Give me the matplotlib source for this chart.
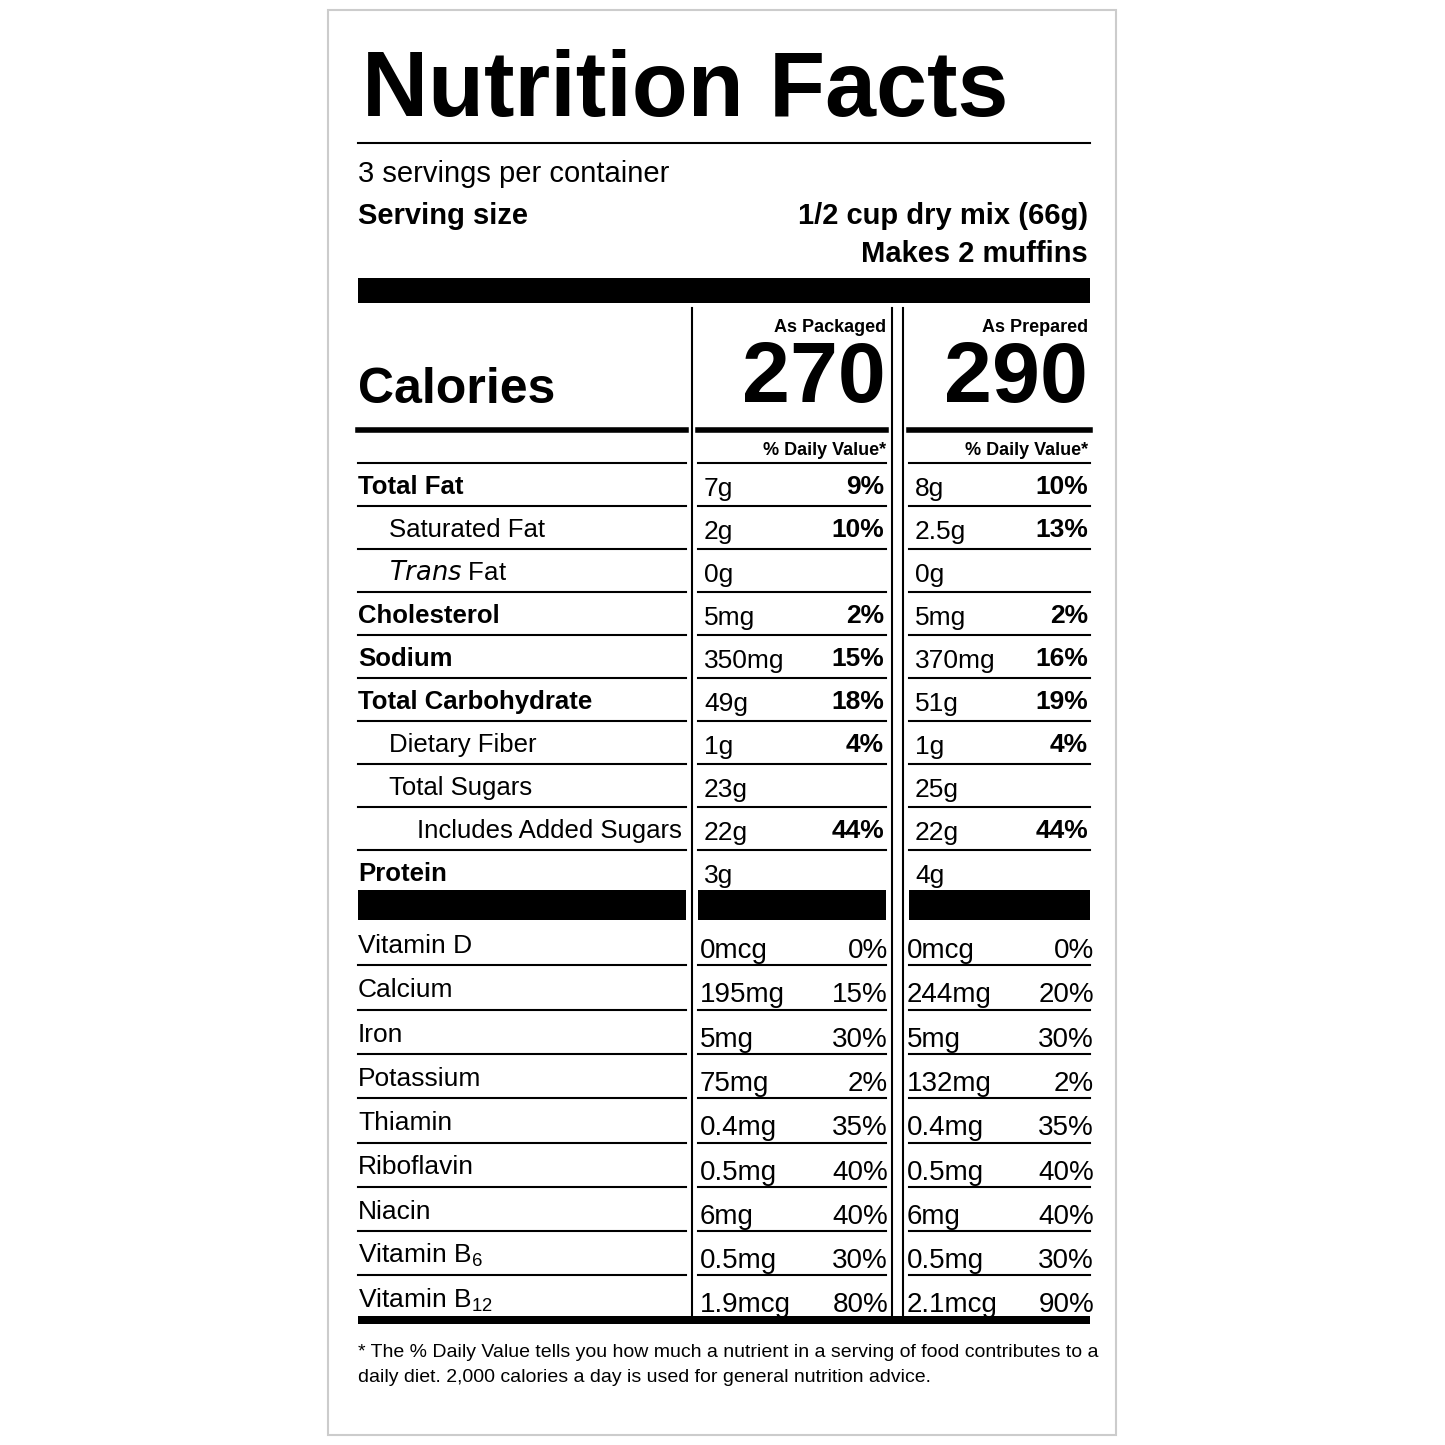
import matplotlib.pyplot as plt
from matplotlib.patches import Rectangle

plt.rcParams['font.family'] = ['Liberation Sans', 'DejaVu Sans']
plt.rcParams['mathtext.default'] = 'regular'

nutrients = ["Total Fat", "Saturated Fat", r"$\it{Trans}$ Fat", "Cholesterol", "Sodium",
             "Total Carbohydrate", "Dietary Fiber", "Total Sugars",
             "Includes Added Sugars", "Protein"]
nutrient_bold = [True, False, False, True, True, True, False, False, False, True]
nutrient_indent = [0, 31, 31, 0, 0, 0, 31, 31, 59, 0]
pkg_amount = ["7g", "2g", "0g", "5mg", "350mg", "49g", "1g", "23g", "22g", "3g"]
pkg_dv = ["9%", "10%", "", "2%", "15%", "18%", "4%", "", "44%", ""]
prep_amount = ["8g", "2.5g", "0g", "5mg", "370mg", "51g", "1g", "25g", "22g", "4g"]
prep_dv = ["10%", "13%", "", "2%", "16%", "19%", "4%", "", "44%", ""]

vitamins = ["Vitamin D", "Calcium", "Iron", "Potassium", "Thiamin", "Riboflavin",
            "Niacin", "Vitamin B$_{6}$", "Vitamin B$_{12}$"]
vit_pkg_amount = ["0mcg", "195mg", "5mg", "75mg", "0.4mg", "0.5mg", "6mg", "0.5mg", "1.9mcg"]
vit_pkg_dv = ["0%", "15%", "30%", "2%", "35%", "40%", "40%", "30%", "80%"]
vit_prep_amount = ["0mcg", "244mg", "5mg", "132mg", "0.4mg", "0.5mg", "6mg", "0.5mg", "2.1mcg"]
vit_prep_dv = ["0%", "20%", "30%", "2%", "35%", "40%", "40%", "30%", "90%"]

calories = ["270", "290"]
col_heads = ["As Packaged", "As Prepared"]

fig = plt.figure(figsize=(14.45, 14.45), dpi=100)
ax = fig.add_axes([0, 0, 1, 1])
ax.set_xlim(0, 1445)
ax.set_ylim(1445, 0)
ax.axis('off')

L, R = 358, 1090
C1a, C1b = 692, 892
C2a = 903
ax.add_patch(Rectangle((328, 10), 788, 1425, fill=False, ec='#cccccc', lw=1.5))

def bar(x0, x1, y0, y1):
    ax.add_patch(Rectangle((x0, y0), x1 - x0, y1 - y0, color='black', lw=0))

def hline(x0, x1, y, lw=1.5):
    ax.plot([x0, x1], [y, y], color='black', lw=lw)

ax.text(362, 116, "Nutrition Facts", fontsize=66, fontweight='bold', va='baseline')
hline(L, R, 143)
ax.text(L, 182, "3 servings per container", fontsize=21, va='baseline')
ax.text(L, 224, "Serving size", fontsize=21, fontweight='bold', va='baseline')
ax.text(R - 2, 224, "1/2 cup dry mix (66g)", fontsize=21, fontweight='bold', va='baseline', ha='right')
ax.text(R - 2, 262, "Makes 2 muffins", fontsize=21, fontweight='bold', va='baseline', ha='right')
bar(L, R, 278, 303)

for x in (C1a, C1b, C2a):
    ax.plot([x, x], [308, 1318], color='black', lw=1.5)

ax.text(L, 403, "Calories", fontsize=36, fontweight='bold', va='baseline')
for xr, head, cal in zip([886, R - 2], col_heads, calories):
    ax.text(xr, 332, head, fontsize=13, fontweight='bold', va='baseline', ha='right')
    ax.text(xr, 402, cal, fontsize=62, fontweight='bold', va='baseline', ha='right')
    ax.text(xr, 455, "% Daily Value*", fontsize=13, fontweight='bold', va='baseline', ha='right')

segs = [(L, 686), (C1a + 6, C1b - 6), (C2a + 6, R)]
for a, b in segs:
    hline(a, b, 430, lw=4)

y0, dy = 494, 43
for i, name in enumerate(nutrients):
    y = y0 + i * dy
    for a, b in segs:
        hline(a, b, y - 31)
    w = 'bold' if nutrient_bold[i] else 'normal'
    ax.text(L + nutrient_indent[i], y, name, fontsize=18.5, fontweight=w, va='baseline')
    ax.text(C1a + 12, y + 2, pkg_amount[i], fontsize=19, va='baseline')
    ax.text(884, y, pkg_dv[i], fontsize=19, fontweight='bold', va='baseline', ha='right')
    ax.text(C2a + 12, y + 2, prep_amount[i], fontsize=19, va='baseline')
    ax.text(R - 2, y, prep_dv[i], fontsize=19, fontweight='bold', va='baseline', ha='right')

for a, b in segs:
    bar(a, b, 890, 920)

y0, dy = 953, 44.3
for i, name in enumerate(vitamins):
    y = y0 + i * dy
    if i > 0:
        for a, b in segs:
            hline(a, b, y - 32)
    ax.text(L, y, name, fontsize=19, va='baseline')
    ax.text(C1a + 8, y + 5, vit_pkg_amount[i], fontsize=20, va='baseline')
    ax.text(888, y + 5, vit_pkg_dv[i], fontsize=20, va='baseline', ha='right')
    ax.text(C2a + 4, y + 5, vit_prep_amount[i], fontsize=20, va='baseline')
    ax.text(R + 4, y + 5, vit_prep_dv[i], fontsize=20, va='baseline', ha='right')

bar(L, R, 1316, 1324)
ax.text(L, 1357, "* The % Daily Value tells you how much a nutrient in a serving of food contributes to a",
        fontsize=14, va='baseline')
ax.text(L, 1382, "daily diet. 2,000 calories a day is used for general nutrition advice.",
        fontsize=14, va='baseline')

fig.savefig("out.png", dpi=100, facecolor='white')
